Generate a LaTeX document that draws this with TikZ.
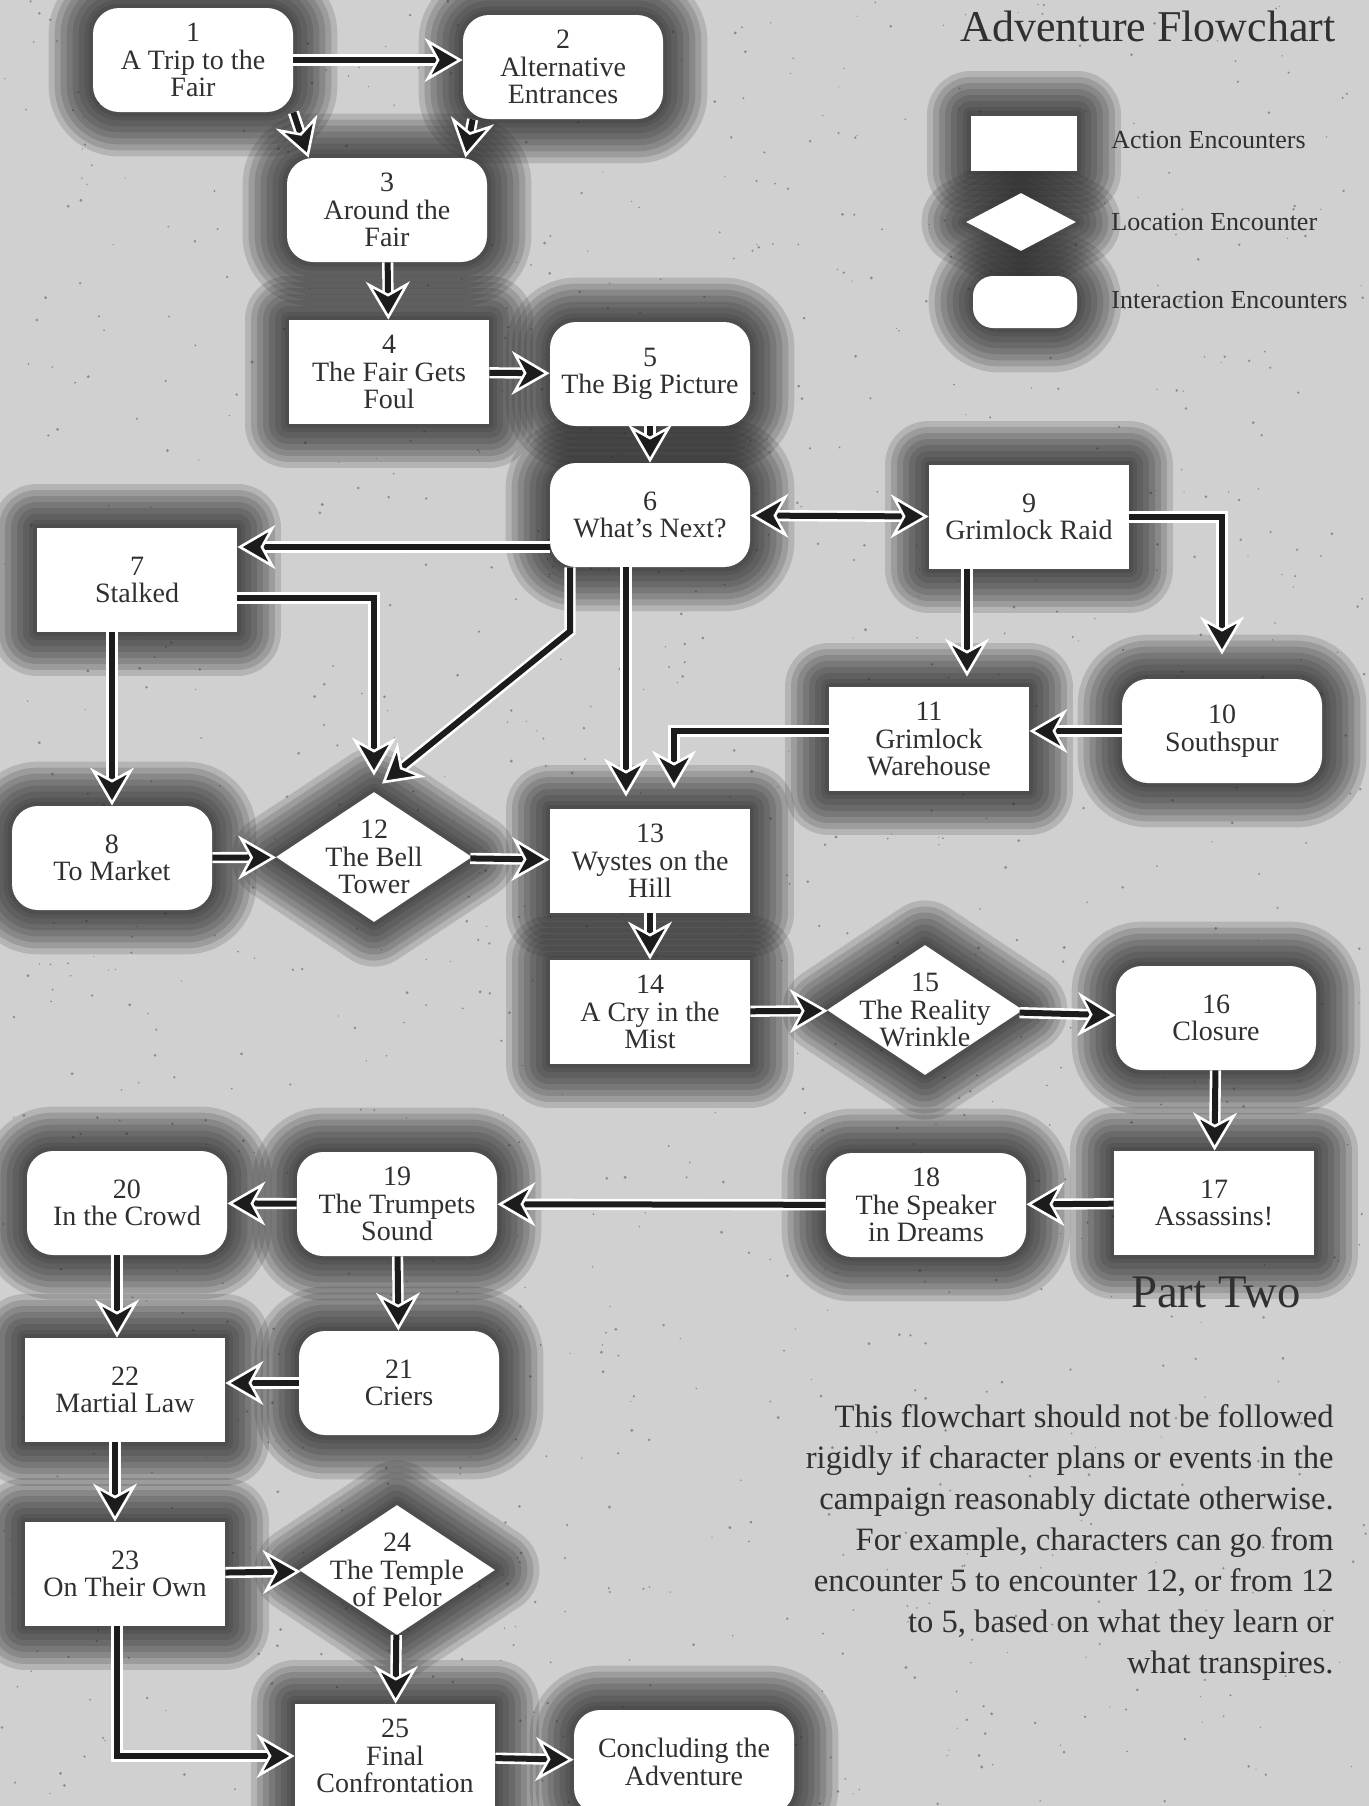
\documentclass[tikz,border=0pt]{standalone}
\usepackage{fontspec}
\setmainfont{Liberation Serif}
\usepackage{xcolor}
\usepackage{tikz}
\usetikzlibrary{arrows.meta, shapes.geometric, backgrounds}

\definecolor{paper}{HTML}{D0D0D0}
\definecolor{haze}{HTML}{2A2A2A}
\definecolor{ink}{HTML}{1C1C1C}
\definecolor{lettering}{HTML}{303030}

\tikzset{
  fat/.tip={Stealth[length=19pt, width=22pt, inset=6pt, line width=1.3pt, color=white, fill=ink]},
  card/.style={fill=white, text=lettering, align=center, inner sep=2pt,
    minimum width=100pt, minimum height=52pt, font=\fontsize{14}{13.8}\selectfont},
  action/.style={card, rectangle},
  interaction/.style={card, rectangle, rounded corners=13pt},
  location/.style={card, diamond, minimum width=98pt, minimum height=65pt, inner sep=0pt},
  loctext/.style={text=lettering, align=center, inner sep=0pt, font=\fontsize{14}{13.8}\selectfont},
  keytext/.style={text=lettering, anchor=west, inner sep=0pt, font=\fontsize{13}{15}\selectfont},
  haloband/.style={draw=haze, draw opacity=.17, line join=round, line width=#1},
  glow/.style={
    preaction={haloband=44pt}, preaction={haloband=38pt}, preaction={haloband=32pt},
    preaction={haloband=26pt}, preaction={haloband=20pt}, preaction={haloband=14pt},
    preaction={haloband=8pt}, preaction={haloband=4pt}},
  flow/.style={draw=ink, line width=3pt, -{fat},
    preaction={draw=white, line width=5.6pt, arrows=-, shorten >=11pt}},
  twoway/.style={draw=ink, line width=3pt, {fat}-{fat},
    preaction={draw=white, line width=5.6pt, arrows=-, shorten >=11pt, shorten <=11pt}}
}

\begin{document}
\begin{tikzpicture}[x=0.5pt, y=-0.5pt]
\useasboundingbox (0,0) rectangle (1369,1806);

% encounters
\node[interaction] (n1) at (193,60) {1\\A Trip to the\\Fair};
\node[interaction] (n2) at (563,67) {2\\Alternative\\Entrances};
\node[interaction] (n3) at (387,210) {3\\Around the\\Fair};
\node[action] (n4) at (389,372) {4\\The Fair Gets\\Foul};
\node[interaction] (n5) at (650,374) {5\\The Big Picture};
\node[interaction] (n6) at (650,515) {6\\What’s Next?};
\node[action] (n7) at (137,580) {7\\Stalked};
\node[interaction] (n8) at (112,858) {8\\To Market};
\node[action] (n9) at (1029,517) {9\\Grimlock Raid};
\node[interaction] (n10) at (1222,731) {10\\Southspur};
\node[action] (n11) at (929,739) {11\\Grimlock\\Warehouse};
\node[location, label={[loctext]center:{12\\The Bell\\Tower}}] (n12) at (374,857) {};
\node[action] (n13) at (650,861) {13\\Wystes on the\\Hill};
\node[action] (n14) at (650,1012) {14\\A Cry in the\\Mist};
\node[location, label={[loctext]center:{15\\The Reality\\Wrinkle}}] (n15) at (925,1010) {};
\node[interaction] (n16) at (1216,1018) {16\\Closure};
\node[action] (n17) at (1214,1203) {17\\Assassins!};
\node[interaction] (n18) at (926,1205) {18\\The Speaker\\in Dreams};
\node[interaction] (n19) at (397,1204) {19\\The Trumpets\\Sound};
\node[interaction] (n20) at (127,1203) {20\\In the Crowd};
\node[interaction] (n21) at (399,1383) {21\\Criers};
\node[action] (n22) at (125,1390) {22\\Martial Law};
\node[action] (n23) at (125,1574) {23\\On Their Own};
\node[location, label={[loctext]center:{24\\The Temple\\of Pelor}}] (n24) at (397,1570) {};
\node[action] (n25) at (395,1756) {25\\Final\\Confrontation};
\node[interaction, minimum width=110pt] (n26) at (684,1762) {Concluding the\\Adventure};

% key
\node[action, minimum width=53pt, minimum height=27.5pt] (k1) at (1024,143) {};
\node[location, minimum width=55pt, minimum height=29pt] (k2) at (1021,222) {};
\node[interaction, minimum width=52pt, minimum height=26pt, rounded corners=10pt] (k3) at (1025,302) {};
\node[keytext] (l1) at (1111,140) {Action Encounters};
\node[keytext] (l2) at (1111,222) {Location Encounter};
\node[keytext] (l3) at (1111,300) {Interaction Encounters};

% headings and note
\node[anchor=base east, inner sep=0pt, text=lettering, font=\fontsize{22}{26}\selectfont] (title) at (1336,41) {Adventure Flowchart};
\node[anchor=base east, inner sep=0pt, text=lettering, font=\fontsize{23.4}{28}\selectfont] (part) at (1301,1307) {Part Two};
\node[anchor=north east, inner sep=0pt, align=right, text=lettering, font=\fontsize{16.3}{20.5}\selectfont] (note) at (1334,1404)
  {This flowchart should not be followed\\
   rigidly if character plans or events in the\\
   campaign reasonably dictate otherwise.\\
   For example, characters can go from\hspace*{5pt}\\
   encounter 5 to encounter 12, or from 12\\
   to 5, based on what they learn or\hspace*{5pt}\\
   what transpires.};

% paper and halos
\begin{scope}[on background layer]
  \fill[paper] (0,0) rectangle (1369,1806);
  \pgfmathsetseed{5}
  \foreach \i in {1,...,1200}
    \fill[black!45] (rnd*1369, rnd*1806) circle [radius=0.6+rnd];
  \foreach \n in {n1,n2,n3,n5,n6,n8,n10,n16,n18,n19,n20,n21,n26,k3}
    \path[glow, rounded corners=13pt] (\n.north west) rectangle (\n.south east);
  \foreach \n in {n4,n7,n9,n11,n13,n14,n17,n22,n23,n25,k1}
    \path[glow] (\n.north west) rectangle (\n.south east);
  \foreach \n in {n12,n15,n24,k2}
    \path[glow] (\n.north) -- (\n.east) -- (\n.south) -- (\n.west) -- cycle;
\end{scope}

% connectors
\draw[flow] (n1.east) -- (n1.east -| n2.west);
\draw[flow] (n1.south east) -- ([xshift=11pt]n3.north west);
\draw[flow] ([xshift=5pt]n2.south west) -- ([xshift=-11pt]n3.north east);
\draw[flow] (n3) -- (n4);
\draw[flow] (n4) -- (n5);
\draw[flow] (n5) -- (n6);
\draw[twoway] (n6) -- (n9);
\draw[flow] ([yshift=-16pt]n6.west) -- ([yshift=-16pt]n6.west -| n7.east);
\draw[flow] ([xshift=-40pt]n6.south) -- ++(0,64) -- ([xshift=4pt,yshift=4pt]n12.north);
\draw[flow] ([xshift=-12pt]n6.south) -- ([xshift=-12pt,yshift=6pt]n13.north);
\draw[flow] ([yshift=-9pt]n7.east) -| ([yshift=8pt]n12.north);
\draw[flow] (n8.north |- n7.south) -- (n8.north);
\draw[flow] ([xshift=-31pt]n9.south) -- ([xshift=-31pt,yshift=5pt]n9.south |- n11.north);
\draw[flow] (n9.east) -| ([yshift=12pt]n10.north);
\draw[flow] (n10.west) -- (n10.west -| n11.east);
\draw[flow] ([yshift=4pt]n11.west) -| ([xshift=12pt,yshift=10pt]n13.north);
\draw[flow] (n8) -- (n12);
\draw[flow] (n12) -- (n13);
\draw[flow] (n13) -- (n14);
\draw[flow] (n14) -- (n15);
\draw[flow] (n15) -- (n16);
\draw[flow] (n16) -- (n17);
\draw[flow] (n17) -- (n18);
\draw[flow] (n18) -- (n19);
\draw[flow] (n19) -- (n20);
\draw[flow] (n19) -- (n21);
\draw[flow] ([xshift=-5pt]n20.south) -- ([xshift=-5pt]n20.south |- n22.north);
\draw[flow] (n21.west) -- (n21.west -| n22.east);
\draw[flow] ([xshift=-5pt]n22.south) -- ([xshift=-5pt]n23.north);
\draw[flow] (n23) -- (n24);
\draw[flow] ([xshift=-4pt]n23.south) |- (n25.west);
\draw[flow] (n24) -- (n25);
\draw[flow] (n25) -- (n26);
\end{tikzpicture}
\end{document}
